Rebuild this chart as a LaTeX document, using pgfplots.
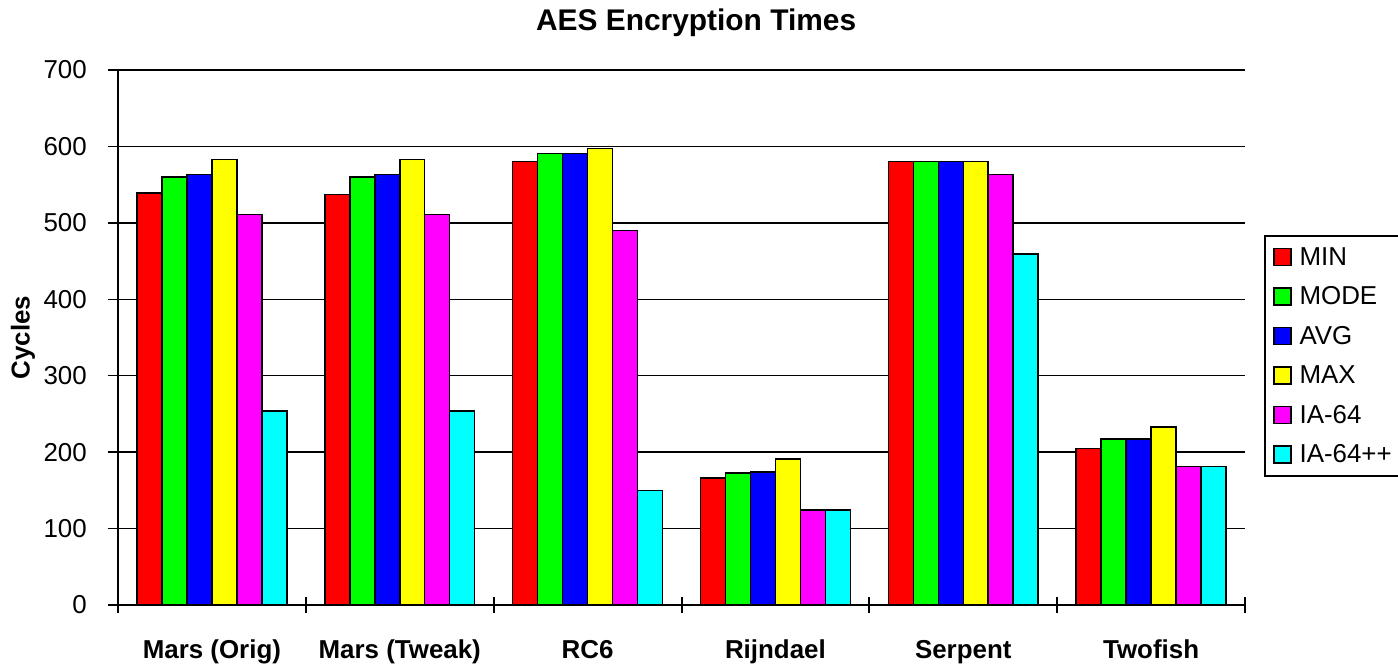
\documentclass[border=0pt]{standalone}
\usepackage{fontspec}
\setmainfont{Liberation Sans}
\usepackage{pgfplots}
\pgfplotsset{compat=1.18}

\definecolor{cmin}{RGB}{255,0,0}
\definecolor{cmode}{RGB}{0,255,0}
\definecolor{cavg}{RGB}{0,0,255}
\definecolor{cmax}{RGB}{255,255,0}
\definecolor{cia}{RGB}{255,0,255}
\definecolor{ciapp}{RGB}{0,255,255}

\begin{document}
\begin{tikzpicture}
\begin{axis}[
    name=ax,
    scale only axis,
    width=1127bp, height=535bp,
    xmin=-0.5, xmax=5.5,
    ymin=0, ymax=700,
    ytick={0,100,...,700},
    xtick={0,...,5},
    xticklabels={Mars (Orig), Mars (Tweak), RC6, Rijndael, Serpent, Twofish},
    minor xtick={-0.5,0.5,...,5.5},
    ybar=0pt, bar width=0.133,
    axis x line*=bottom, axis y line*=left,
    axis line style={line width=2bp, -},
    ymajorgrids, grid style={line width=1.5bp, black},
    tick align=center,
    major tick length=20bp, minor tick length=16bp,
    major x tick style={draw=none},
    minor x tick style={line width=2bp, black},
    major y tick style={line width=1.5bp, black},
    /pgf/number format/assume math mode=true,
    yticklabel style={font=\fontsize{26}{30}\selectfont, anchor=east, inner sep=0pt, xshift=-21bp},
    xticklabel style={font=\bfseries\fontsize{26}{30}\selectfont, anchor=base, yshift=-43bp},
    ylabel={Cycles},
    ylabel style={font=\bfseries\fontsize{26}{30}\selectfont, at={(axis description cs:-0.0843,0.5)}, anchor=center},
    title={AES Encryption Times},
    title style={font=\bfseries\fontsize{30}{34}\selectfont, at={(axis description cs:0.513,1)}, anchor=base, yshift=34bp},
    every axis plot/.append style={draw=black, line width=1.5bp},
    legend image code/.code={\draw[#1, line width=1.5bp] (0bp,-8.5bp) rectangle (17bp,8.5bp); \path (23bp,0bp);},
    legend style={at={(axis description cs:1.0169,0.4654)}, anchor=west,
        draw=black, line width=2bp, font=\fontsize{26}{30}\selectfont,
        row sep=16bp, inner xsep=8bp, inner ysep=10bp},
    legend cell align=left,
]
\addplot[fill=cmin] coordinates {(0,539) (1,537) (2,580) (3,166) (4,580) (5,205)};
\addplot[fill=cmode] coordinates {(0,560) (1,560) (2,591) (3,173) (4,580) (5,217)};
\addplot[fill=cavg] coordinates {(0,563) (1,563) (2,591) (3,174) (4,580) (5,217)};
\addplot[fill=cmax] coordinates {(0,583) (1,583) (2,597) (3,191) (4,580) (5,233)};
\addplot[fill=cia] coordinates {(0,511) (1,511) (2,490) (3,124) (4,563) (5,181)};
\addplot[fill=ciapp] coordinates {(0,254) (1,254) (2,150) (3,124) (4,459) (5,181)};
\legend{MIN, MODE, AVG, MAX, IA-64, IA-64++}
\end{axis}
\pgfresetboundingbox
\path (ax.south west) ++(-118bp,-60bp) rectangle ++(1398bp,665bp);
\end{tikzpicture}
\end{document}
